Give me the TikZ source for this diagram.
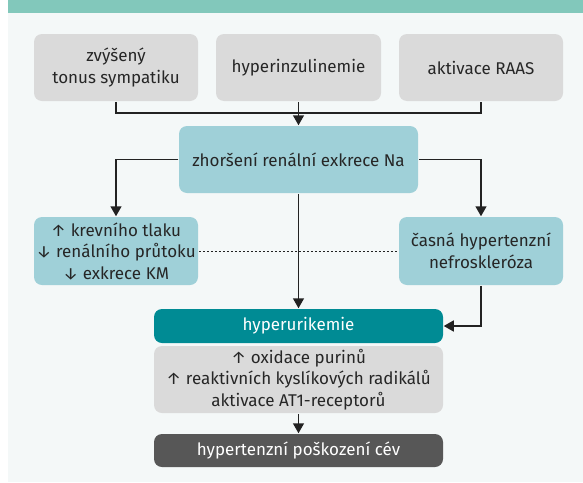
\documentclass[tikz,border=0pt]{standalone}
\usepackage{fontspec}
\setmainfont{Fira Sans}
\usetikzlibrary{arrows.meta}

\definecolor{headbar}{HTML}{82C8BB}
\definecolor{panel}{HTML}{F4F8F8}
\definecolor{greybox}{HTML}{DADADA}
\definecolor{tealbox}{HTML}{9FD0D8}
\definecolor{uricbox}{HTML}{008B94}
\definecolor{darkbox}{HTML}{575757}
\definecolor{wire}{HTML}{222222}

\tikzset{every picture/.style={line width=1.5pt}}
\tikzset{
  box/.style={rounded corners=8pt, inner sep=2pt, align=center, text=black!85,
    font=\fontsize{17}{21.5}\selectfont, minimum height=67pt},
  greyb/.style={box, fill=greybox, minimum width=164pt},
  tealb/.style={box, fill=tealbox, minimum width=164pt},
  barb/.style={box, text=white, minimum width=289pt, minimum height=34pt},
  link/.style={draw=wire, -{Triangle[width=11pt,length=10pt]}},
}

\begin{document}
\begin{tikzpicture}[x=1pt,y=1pt,yscale=-1]
			\useasboundingbox (0,0) rectangle (583,482);
			\fill [panel] (8,0) rectangle (583,482);
			\fill [headbar] (8,0) rectangle (583,13);

			% causes
			\node [greyb] (sympat) at (116,67.5) {zvýšený\\tonus sympatiku};
			\node [greyb, minimum width=165pt] (inzul) at (298.5,67.5) {hyperinzulinemie};
			\node [greyb] (raas) at (481,67.5) {aktivace RAAS};
			\coordinate (join) at (298.5,113);

			\node [tealb, minimum width=239pt] (sodium) at (298.5,159.5) {zhoršení renální exkrece Na};
			\node [tealb, minimum height=68pt] (pressure) at (116,251) {↑ krevního tlaku\\↓ renálního průtoku\\↓ exkrece KM};
			\node [tealb, minimum height=68pt] (sclerosis) at (481,251) {časná hypertenzní\\nefroskleróza};

			% urate and its effects
			\node [barb, fill=uricbox] (uric) at (298.5,326) {hyperurikemie};
			\node [greyb, minimum width=289pt] (mechan) at (298.5,379.5) {↑ oxidace purinů\\↑ reaktivních kyslíkových radikálů\\aktivace AT1-receptorů};
			\node [barb, fill=darkbox, minimum height=33pt] (damage) at (298.5,450.5) {hypertenzní poškození cév};

			\draw [wire] (sympat.south) |- (join) -| (raas.south);
			\draw [link] (inzul.south) -- (sodium.north);
			\draw [link] (sodium.west) -| (pressure.north);
			\draw [link] (sodium.east) -| (sclerosis.north);
			\draw [link] (sodium.south) -- (uric.north);
			\draw [wire, line width=1pt, dash pattern=on 2pt off 2pt] (pressure.east) -- (sclerosis.west);
			\draw [link] (sclerosis.south) |- (uric.east);
			\draw [link] (mechan.south) -- (damage.north);
		\end{tikzpicture}
\end{document}
